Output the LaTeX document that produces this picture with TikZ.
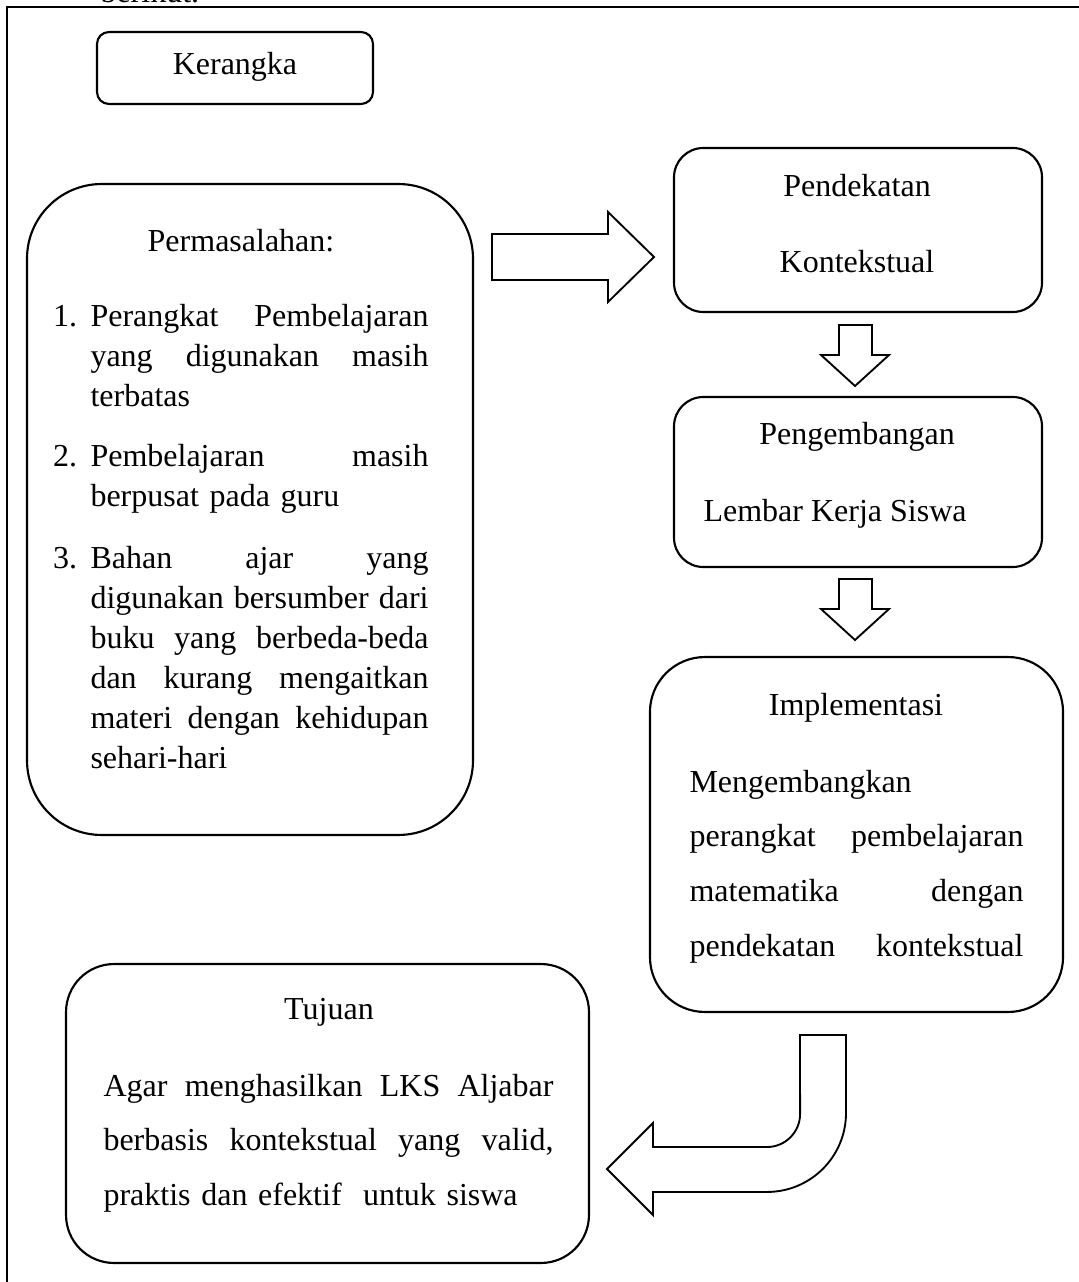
\documentclass[tikz,border=0pt]{standalone}
\usepackage{fontspec}
\setmainfont{Liberation Serif}

\begin{document}
\begin{tikzpicture}[x=0.375pt,y=-0.375pt,
    kotak/.style={draw,line width=0.8pt,inner sep=0pt},
    teks/.style={inner sep=0pt,font=\fontsize{12}{15}\selectfont},
    panah/.style={draw,line width=0.7pt,fill=white,line join=miter}]
  \useasboundingbox (0,0) rectangle (1078,1282);
  \draw[line width=0.6pt] (1100,7) -- (7,7) -- (7,1300);
  \node[teks,anchor=base west] (berikut) at (100,3) {berikut.};
  % kotak-kotak
  \node[kotak,rounded corners=4.5pt,minimum width=103.5pt,minimum height=27pt] %
    (kerangka) at (235,68) {};
  \node[kotak,rounded corners=28pt,minimum width=167.25pt,minimum height=244.1pt] %
    (masalah) at (250,509.5) {};
  \node[kotak,rounded corners=11pt,minimum width=138pt,minimum height=61.5pt] %
    (pendekatan) at (858,230) {};
  \node[kotak,rounded corners=11pt,minimum width=138pt,minimum height=63.75pt] %
    (pengembangan) at (858,482) {};
  \node[kotak,rounded corners=20.6pt,minimum width=154.9pt,minimum height=133.1pt] %
    (implementasi) at (856.5,834.5) {};
  \node[kotak,rounded corners=18pt,minimum width=196.1pt,minimum height=112.1pt] %
    (tujuan) at (327.5,1113.5) {};
  % teks
  \node[teks,anchor=base] (tkerangka) at (235,75) {Kerangka};
  \node[teks,anchor=base] (tmasalah) at (241,252) {Permasalahan:};
  \node[teks,anchor=base west,text width=126.75pt,align=left] (item1) at (90,327)
    {\llap{1.\hspace{5pt}}Perangkat\hfill Pembelajaran\\ yang\hfill digunakan\hfill masih\\ terbatas};
  \node[teks,anchor=base west,text width=126.75pt,align=left] (item2) at (90,467)
    {\llap{2.\hspace{5pt}}Pembelajaran\hfill masih\\ berpusat pada guru};
  \node[teks,anchor=base west,text width=126.75pt,align=left] (item3) at (90,568)
    {\llap{3.\hspace{5pt}}Bahan\hfill ajar\hfill yang\\ digunakan\hfill bersumber\hfill dari\\
     buku\hfill yang\hfill berbeda-beda\\ dan\hfill kurang\hfill mengaitkan\\
     materi\hfill dengan\hfill kehidupan\\ sehari-hari};
  \node[teks,anchor=base] (tpendekatan) at (857,197) {Pendekatan};
  \node[teks,anchor=base] (tkontekstual) at (857,273) {Kontekstual};
  \node[teks,anchor=base] (tpengembangan) at (857,445) {Pengembangan};
  \node[teks,anchor=base west] (tlks) at (703,522) {Lembar Kerja Siswa};
  \node[teks,anchor=base] (timplementasi) at (856,715) {Implementasi};
  \node[teks,anchor=base west,text width=125.25pt,align=left,
    font=\fontsize{12}{20.6}\selectfont] (isiimpl) at (689,792)
    {Mengembangkan\\ perangkat\hfill pembelajaran\\ matematika\hfill dengan\\
     pendekatan\hfill kontekstual};
  \node[teks,anchor=base] (ttujuan) at (329,1019) {Tujuan};
  \node[teks,anchor=base west,text width=168.75pt,align=left,
    font=\fontsize{12}{20.6}\selectfont] (isitujuan) at (103,1096)
    {Agar\hfill menghasilkan\hfill LKS\hfill Aljabar\\
     berbasis\hfill kontekstual\hfill yang\hfill valid,\\
     praktis dan efektif\ \ untuk siswa};
  % panah
  \draw[panah] (492,234) -- (608,234) -- (608,212) -- (654,257) -- (608,302) %
    -- (608,280) -- (492,280) -- cycle;
  \draw[panah] (839,325) -- (872,325) -- (872,355) -- (889,355) -- (855,386) %
    -- (821,355) -- (839,355) -- cycle;
  \draw[panah] (839,579) -- (872,579) -- (872,609) -- (889,609) -- (855,640) %
    -- (821,609) -- (839,609) -- cycle;
  \draw[panah] (846,1035) -- (846,1113) arc[start angle=0,end angle=-90,radius=29.6pt] %
    -- (653,1192) -- (653,1215) -- (607,1169) -- (653,1123) -- (653,1147) %
    -- (767,1147) arc[start angle=-90,end angle=0,radius=12.4pt] -- (800,1035) -- cycle;
\end{tikzpicture}
\end{document}
